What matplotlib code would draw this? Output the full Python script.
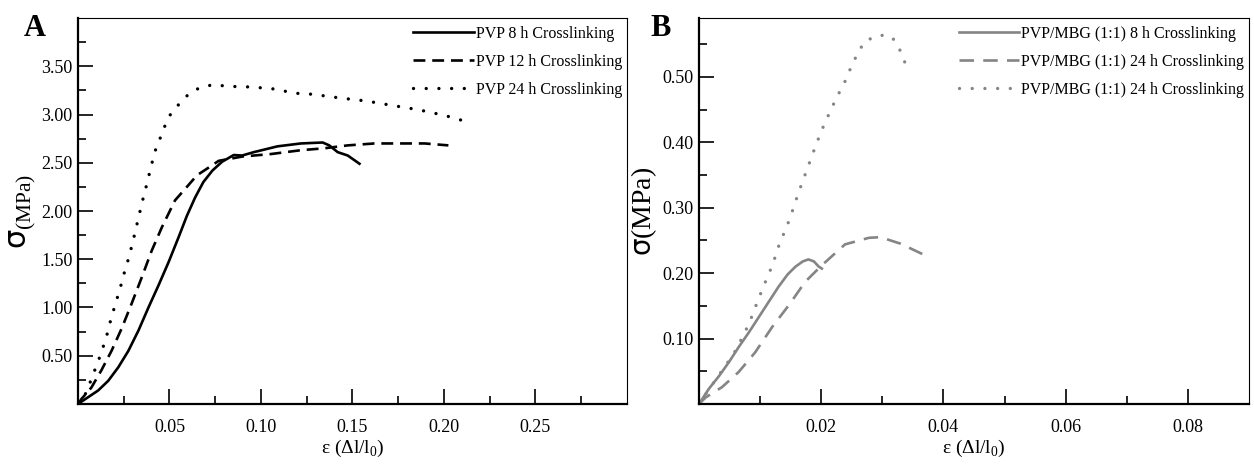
import matplotlib
matplotlib.use('Agg')
import matplotlib.pyplot as plt

# panel A - PVP scaffolds
a_8h_x = [0, 0.0055, 0.011, 0.0165, 0.022, 0.0275, 0.033, 0.0385, 0.044, 0.0495, 0.055,
          0.0595, 0.064, 0.0685, 0.0735, 0.0787, 0.0851, 0.0897, 0.0961, 0.109, 0.1218,
          0.1337, 0.1373, 0.1419, 0.1474, 0.1538]
a_8h_y = [0, 0.07, 0.14, 0.24, 0.38, 0.55, 0.76, 1.00, 1.23, 1.47, 1.73,
          1.95, 2.14, 2.30, 2.42, 2.51, 2.58, 2.575, 2.61, 2.67, 2.70,
          2.71, 2.68, 2.61, 2.575, 2.49]
a_12h_x = [0, 0.0018, 0.0073, 0.0128, 0.0183, 0.0238, 0.0293, 0.0348, 0.0403, 0.0458,
           0.053, 0.0595, 0.065, 0.0714, 0.0769, 0.090, 0.1053, 0.1218, 0.1346, 0.1474,
           0.162, 0.175, 0.1895, 0.2024]
a_12h_y = [0, 0.05, 0.17, 0.35, 0.55, 0.78, 1.04, 1.31, 1.59, 1.83,
           2.11, 2.25, 2.37, 2.45, 2.52, 2.565, 2.59, 2.63, 2.65, 2.68,
           2.70, 2.70, 2.70, 2.68]
a_24h_x = [0, 0.0046, 0.0077, 0.0106, 0.0134, 0.016, 0.018, 0.0205, 0.0229, 0.0253,
           0.0275, 0.0297, 0.0317, 0.0338, 0.0357, 0.0379, 0.0399, 0.0421, 0.0448, 0.0472,
           0.0505, 0.0553, 0.0609, 0.0668, 0.0741, 0.0824, 0.0897, 0.1053, 0.119, 0.128,
           0.1437, 0.1575, 0.173, 0.1859, 0.2005, 0.2152]
a_24h_y = [0, 0.12, 0.28, 0.42, 0.57, 0.73, 0.88, 1.04, 1.19, 1.36,
           1.50, 1.66, 1.82, 1.99, 2.14, 2.30, 2.46, 2.62, 2.75, 2.87,
           3.00, 3.11, 3.22, 3.28, 3.31, 3.29, 3.29, 3.27, 3.22, 3.21,
           3.17, 3.14, 3.09, 3.05, 2.99, 2.91]

# panel B - PVP/MBG scaffolds
b_8h_x = [0, 0.0016, 0.0033, 0.0049, 0.0065, 0.0082, 0.0098, 0.0114, 0.013, 0.0145,
          0.0158, 0.017, 0.0179, 0.0188, 0.0196, 0.0201]
b_8h_y = [0, 0.023, 0.043, 0.064, 0.087, 0.110, 0.133, 0.156, 0.179, 0.198,
          0.210, 0.218, 0.221, 0.218, 0.210, 0.207]
b_24h_x = [0, 0.0011, 0.0038, 0.0065, 0.0092, 0.012, 0.0147, 0.0174, 0.0201, 0.0239,
           0.0278, 0.0297, 0.033, 0.0366]
b_24h_y = [0, 0.010, 0.026, 0.049, 0.079, 0.118, 0.151, 0.187, 0.212, 0.244,
           0.254, 0.255, 0.245, 0.229]
b_24hb_x = [0, 0.0025, 0.0057, 0.007, 0.0082, 0.0091, 0.0101, 0.0111, 0.0121, 0.0129,
            0.0139, 0.0149, 0.0157, 0.0166, 0.0175, 0.0184, 0.0193, 0.0203, 0.0214, 0.0225,
            0.0238, 0.0248, 0.026, 0.0272, 0.0296, 0.0316, 0.033, 0.0339]
b_24hb_y = [0, 0.034, 0.077, 0.100, 0.123, 0.145, 0.169, 0.192, 0.214, 0.238,
            0.261, 0.284, 0.307, 0.331, 0.354, 0.377, 0.400, 0.423, 0.446, 0.468,
            0.491, 0.513, 0.537, 0.555, 0.564, 0.561, 0.539, 0.517]

labels_a = ['PVP 8 h Crosslinking', 'PVP 12 h Crosslinking', 'PVP 24 h Crosslinking']
labels_b = ['PVP/MBG (1:1) 8 h Crosslinking', 'PVP/MBG (1:1) 24 h Crosslinking',
            'PVP/MBG (1:1) 24 h Crosslinking']

plt.rcParams['font.family'] = ['Liberation Serif', 'DejaVu Serif']
plt.rcParams['mathtext.fontset'] = 'custom'
plt.rcParams['mathtext.rm'] = 'Liberation Serif'
plt.rcParams['mathtext.it'] = 'DejaVu Sans'

fig = plt.figure(figsize=(12.54, 4.69), dpi=100)
axA = fig.add_axes([0.0622, 0.1386, 0.4378, 0.823])
axB = fig.add_axes([0.5574, 0.1386, 0.4386, 0.823])

dots = (0, (0.01, 3.8))

axA.plot(a_8h_x, a_8h_y, color='black', lw=1.9, label=labels_a[0])
axA.plot(a_12h_x, a_12h_y, color='black', lw=1.9, ls=(0, (4.5, 2.6)), label=labels_a[1])
axA.plot(a_24h_x, a_24h_y, color='black', lw=2.4, ls=dots, dash_capstyle='round', label=labels_a[2])

gray = '#858585'
axB.plot(b_8h_x, b_8h_y, color=gray, lw=1.9, label=labels_b[0])
axB.plot(b_24h_x, b_24h_y, color=gray, lw=1.9, ls=(0, (5.5, 3.5)), label=labels_b[1])
axB.plot(b_24hb_x, b_24hb_y, color=gray, lw=2.4, ls=dots, dash_capstyle='round', label=labels_b[2])

axA.set_xlim(0, 0.30)
axA.set_ylim(0, 4.0)
axA.set_xticks([0.05, 0.10, 0.15, 0.20, 0.25])
axA.set_xticks([0.025, 0.075, 0.125, 0.175, 0.225, 0.275], minor=True)
axA.set_yticks([0.5, 1.0, 1.5, 2.0, 2.5, 3.0, 3.5])
axA.set_yticks([0.25, 0.75, 1.25, 1.75, 2.25, 2.75, 3.25, 3.75], minor=True)
axA.set_xticklabels(['0.05', '0.10', '0.15', '0.20', '0.25'])
axA.set_yticklabels(['0.50', '1.00', '1.50', '2.00', '2.50', '3.00', '3.50'])

axB.set_xlim(0, 0.09)
axB.set_ylim(0, 0.59)
axB.set_xticks([0.02, 0.04, 0.06, 0.08])
axB.set_xticks([0.01, 0.03, 0.05, 0.07], minor=True)
axB.set_yticks([0.1, 0.2, 0.3, 0.4, 0.5])
axB.set_yticks([0.05, 0.15, 0.25, 0.35, 0.45, 0.55], minor=True)
axB.set_xticklabels(['0.02', '0.04', '0.06', '0.08'])
axB.set_yticklabels(['0.10', '0.20', '0.30', '0.40', '0.50'])

for ax in (axA, axB):
    ax.tick_params(which='major', direction='in', length=11, width=1.2, labelsize=13)
    ax.tick_params(which='minor', direction='in', length=6, width=1.2)
    ax.tick_params(axis='x', which='major', pad=11)
    ax.tick_params(axis='y', which='major', pad=4)
    ax.tick_params(top=False, right=False)
    for s in ['left', 'bottom']:
        ax.spines[s].set_linewidth(1.6)
    for s in ['top', 'right']:
        ax.spines[s].set_linewidth(0.8)
    ax.set_xlabel(r'ε (Δl/l$_{\mathrm{0}}$)', fontsize=14, labelpad=1)
    ax.legend(loc='upper right', frameon=False, fontsize=11.5, handlelength=3.8,
              handletextpad=0.1, labelspacing=0.75, borderaxespad=0.1,
              bbox_to_anchor=(1.005, 1.0))

axA.set_ylabel(r'$\sigma_{\mathrm{(MPa)}}$', fontsize=22, labelpad=2)
axB.set_ylabel(r'$\sigma\mathrm{(MPa)}$', fontsize=20, labelpad=2)

fig.text(0.028, 0.94, 'A', fontsize=22, fontweight='bold', ha='center', va='center')
fig.text(0.527, 0.94, 'B', fontsize=22, fontweight='bold', ha='center', va='center')

fig.savefig('out.png', dpi=100)
